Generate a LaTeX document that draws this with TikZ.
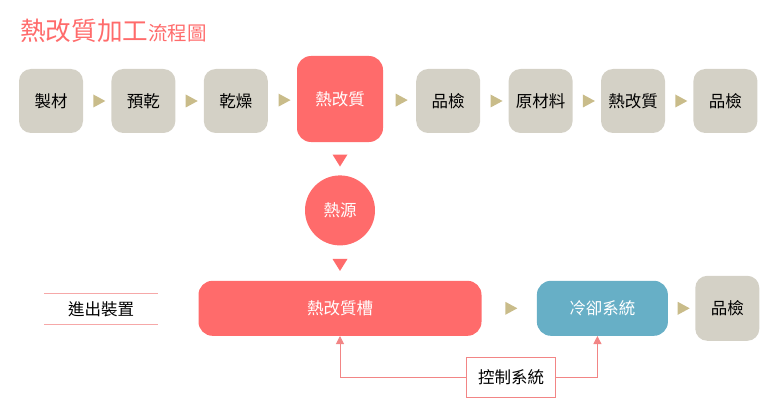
\documentclass[tikz,border=0pt]{standalone}
\usepackage{fontspec}
\newfontfamily\cjk{Noto Sans CJK TC}
\usetikzlibrary{positioning,shapes.geometric,arrows.meta}
\definecolor{hotred}{HTML}{FF6B6B}
\definecolor{stagegrey}{HTML}{D4D1C6}
\definecolor{coolblue}{HTML}{67AFC6}
\definecolor{arrowtan}{HTML}{C9BC8A}
\definecolor{linered}{HTML}{F28585}
\definecolor{palered}{HTML}{F6A8A8}

\begin{document}
\begin{tikzpicture}[x=1pt,y=-1pt,
  every node/.style={align=center,font=\cjk\fontsize{16.5}{19}\selectfont},
  stage/.style={fill=stagegrey,rounded corners=12pt,minimum width=64pt,minimum height=64pt,inner sep=2pt},
  hotstage/.style={fill=hotred,text=white,rounded corners=14pt,minimum width=86pt,minimum height=86pt},
  heatsrc/.style={circle,fill=hotred,text=white,minimum size=70pt,inner sep=0pt},
  tankbox/.style={fill=hotred,text=white,rounded corners=14pt,minimum width=283pt,minimum height=55pt},
  coolbox/.style={fill=coolblue,text=white,rounded corners=14pt,minimum width=131pt,minimum height=55pt},
  ctrlbox/.style={draw=linered,line width=1pt,fill=white,minimum width=89pt,minimum height=40pt},
  iolabel/.style={minimum width=114pt,minimum height=30pt,inner sep=0pt},
  next/.style={isosceles triangle,isosceles triangle stretches,fill=arrowtan,minimum width=13pt,minimum height=12pt,inner sep=0pt},
  down/.style={next,fill=hotred,shape border rotate=-90,minimum width=15pt,minimum height=12pt},
  feed/.style={draw=linered,line width=1pt,-{Triangle[width=8pt,length=8pt]}}]
\useasboundingbox (0,0) rectangle (772,420);
% title
\node[anchor=base west,inner sep=0pt,text=hotred,font=\cjk\fontsize{25.6}{30}\selectfont] (title) at (20,41)
  {熱改質加工{\fontsize{19.5}{22}\selectfont 流程圖}};
% process row
\node[stage] (make) at (51,101) {製材};
\node[stage,right=28pt of make] (pre) {預乾};
\node[stage,right=28pt of pre] (dry) {乾燥};
\node[hotstage] (hot) at (340,99) {熱改質};
\node[stage,right=28pt of dry,xshift=120pt] (qca) {品檢};
\node[stage,right=28pt of qca] (raw) {原材料};
\node[stage,right=28pt of raw] (hotb) {熱改質};
\node[stage,right=28pt of hotb] (qcb) {品檢};
\foreach \a/\b in {make/pre,pre/dry,dry/hot,hot/qca,qca/raw,raw/hotb,hotb/qcb}
  \path (\a) -- node[next]{} (\b);
% heat treatment detail
\node[heatsrc,below=33pt of hot] (src) {熱源};
\node[tankbox,below=35pt of src] (tank) {熱改質槽};
\node[coolbox,right=55pt of tank] (cool) {冷卻系統};
\node[stage,right=27pt of cool,minimum height=65pt] (qcc) {品檢};
\path (hot) -- node[down]{} (src);
\path (src) -- node[down]{} (tank);
\path (tank) -- node[next]{} (cool);
\path (cool) -- node[next]{} (qcc);
\node[iolabel] (io) at (101,309) {進出裝置};
\draw[palered,line width=1pt] (io.north west) -- (io.north east) (io.south west) -- (io.south east);
\node[ctrlbox] (ctrl) at (511,377) {控制系統};
\draw[feed] (ctrl) -| (tank);
\draw[feed] (ctrl) -| ([xshift=-5pt]cool.south);
\end{tikzpicture}
\end{document}
